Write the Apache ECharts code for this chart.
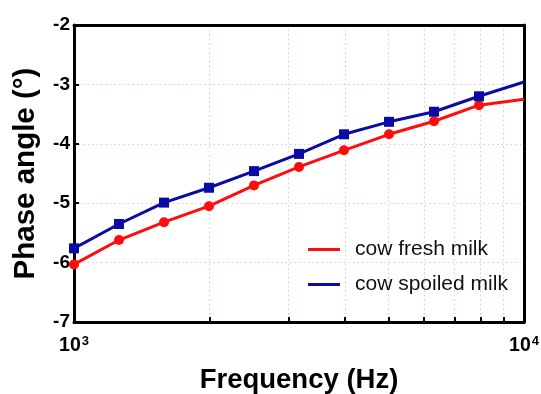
<!DOCTYPE html>
<html>
<head>
<meta charset="utf-8">
<script src="https://cdn.jsdelivr.net/npm/echarts@6/dist/echarts.min.js"></script>
<style>
  html, body { margin: 0; padding: 0; background: #fff; }
  #chart { width: 541px; height: 394px; }
</style>
</head>
<body>
<div id="chart"></div>
<script>
// Frequencies (Hz), log-spaced, 10 points per decade
const frequency = [1000, 1259, 1585, 1995, 2512, 3162, 3981, 5012, 6310, 7943, 10000];
// Phase angle (degrees)
const freshMilk   = [-6.03, -5.62, -5.32, -5.05, -4.70, -4.39, -4.11, -3.84, -3.62, -3.35, -3.25];
const spoiledMilk = [-5.76, -5.35, -4.99, -4.74, -4.46, -4.17, -3.84, -3.63, -3.46, -3.20, -2.96];
const seriesNames = ['cow fresh milk', 'cow spoiled milk'];
const xMinorTicks = [2000, 3000, 4000, 5000, 6000, 7000, 8000, 9000];
const xMajorLabels = [1000, 10000];

const FONT = 'Liberation Sans, Arial, sans-serif';
const GRID_COLOR = '#f2b6f2';
const FRAME = { show: true, onZero: false, lineStyle: { color: '#000', width: 3 } };

// last point of each curve is drawn without a marker
function toPoints(values) {
  return values.map((v, i) => {
    const p = { value: [frequency[i], v] };
    if (i === values.length - 1) p.symbol = 'none';
    return p;
  });
}

const chart = echarts.init(document.getElementById('chart'), null, { renderer: 'canvas' });

chart.setOption({
  backgroundColor: '#fff',
  animation: false,
  grid: { left: 74, right: 17, top: 25, bottom: 72, outerBoundsMode: 'none', containLabel: false },
  legend: {
    orient: 'vertical',
    left: 303, top: 234,
    itemWidth: 32, itemHeight: 3,
    itemGap: 14,
    icon: 'rect',
    textStyle: { fontFamily: FONT, fontSize: 21, color: '#111', padding: [0, 0, 0, 10], lineHeight: 21 },
    data: seriesNames
  },
  xAxis: [
    {
      type: 'log',
      logBase: 10,
      min: 1000, max: 10000,
      name: 'Frequency (Hz)',
      nameLocation: 'middle',
      nameGap: 44,
      nameTextStyle: { fontFamily: FONT, fontSize: 27.5, fontWeight: 'bold', color: '#000' },
      axisLine: FRAME,
      axisTick: { show: true, inside: true, length: 5, customValues: xMinorTicks, lineStyle: { color: '#000', width: 2 } },
      axisLabel: {
        customValues: xMajorLabels,
        margin: 13,
        formatter: v => '{b|10}{s|' + Math.round(Math.log10(v)) + '}',
        rich: {
          b: { fontFamily: FONT, fontSize: 19.5, fontWeight: 'bold', color: '#000' },
          s: { fontFamily: FONT, fontSize: 13, fontWeight: 'bold', color: '#000', verticalAlign: 'bottom', padding: [0, 0, 8, 1] }
        }
      },
      splitLine: { show: true, lineStyle: { color: GRID_COLOR, width: 1, type: [1.5, 3] } }
    },
    {
      // top frame edge
      type: 'log', logBase: 10, min: 1000, max: 10000, position: 'top',
      axisLine: FRAME, axisTick: { show: false }, axisLabel: { show: false }, splitLine: { show: false }
    }
  ],
  yAxis: [
    {
      type: 'value',
      min: -7, max: -2, interval: 1,
      name: 'Phase angle (°)',
      nameLocation: 'middle',
      nameGap: 33,
      nameTextStyle: { fontFamily: FONT, fontSize: 29.5, fontWeight: 'bold', color: '#000' },
      axisLine: FRAME,
      axisTick: { show: true, inside: true, length: 5, lineStyle: { color: '#000', width: 2 } },
      axisLabel: { fontFamily: FONT, fontSize: 19, fontWeight: 'bold', color: '#000', margin: 4 },
      splitLine: { show: true, lineStyle: { color: GRID_COLOR, width: 1, type: [1.5, 3] } }
    },
    {
      // right frame edge
      type: 'value', min: -7, max: -2, position: 'right',
      axisLine: FRAME, axisTick: { show: false }, axisLabel: { show: false }, splitLine: { show: false }
    }
  ],
  series: [
    {
      name: seriesNames[0],
      type: 'line',
      data: toPoints(freshMilk),
      color: '#ff0d0d',
      symbol: 'circle', symbolSize: 10,
      lineStyle: { width: 3 },
      z: 3
    },
    {
      name: seriesNames[1],
      type: 'line',
      data: toPoints(spoiledMilk),
      color: '#0a0aa5',
      symbol: 'rect', symbolSize: 10,
      lineStyle: { width: 3 },
      z: 4
    }
  ]
});
</script>
</body>
</html>
